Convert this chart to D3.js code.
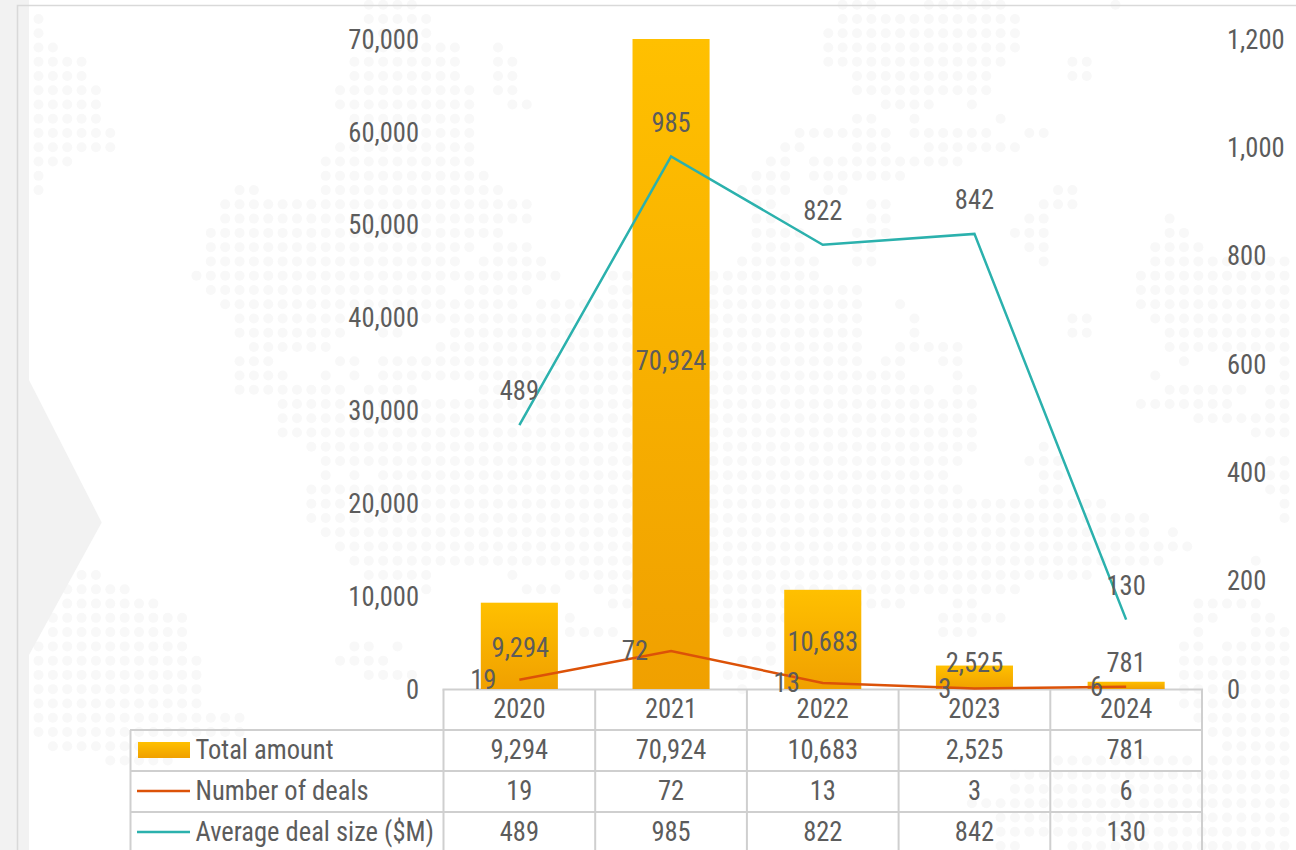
<!DOCTYPE html>
<html><head><meta charset="utf-8">
<style>
html,body{margin:0;padding:0;background:#fff;overflow:hidden}
svg{display:block}
text{font-family:"Roboto Condensed",Roboto,sans-serif;fill:#5c5c5c;font-size:28px}
</style>
<script src="https://cdn.jsdelivr.net/npm/d3@7/dist/d3.min.js"></script>
</head><body>
<svg id="c" width="1296" height="850"></svg>
<script>
// ---- chart data ----
const years = ["2020","2021","2022","2023","2024"];
const totalAmount = [9294,70924,10683,2525,781];
const numberOfDeals = [19,72,13,3,6];
const avgDealSize = [489,985,822,842,130];
const leftTicks = [0,10000,20000,30000,40000,50000,60000,70000];
const rightTicks = [0,200,400,600,800,1000,1200];
const rowNames = ["Total amount","Number of deals","Average deal size ($M)"];
// vertical nudge of the bar's value label from the bar's middle
const barLabelNudge = [2,-3,2,-15,-23];

// ---- decorative dotted map: [row, "col runs"] on a regular grid ----
const mapRows = [
[-1,"23-26,56-58,62-67,75"],[0,"0,23-27,56-68"],[1,"0,23-27,55-68"],[2,"0-1,23-29,32,55-68"],
[3,"0-3,22-29,32-33,55-67,72-73"],[4,"0-3,22-29,32-33,57-66,72-73"],[5,"0-4,21-30,32-33,57-66"],
[6,"0-4,21-30,33-34,59-62,65"],[7,"0-4,22-30,57-58,61,67"],[8,"0-5,23-30,53-59,61-66,69-70"],
[9,"0-5,21-30,52-53,57-59,62-68"],[10,"0-2,20-30,51-52,54-64"],[11,"0,20-31,50-52,54-60"],
[12,"0,14-15,20-32,49-52,55-56,71-72"],[13,"13-34,50-51,58-59,70-72"],[14,"13-34,50-52,58-59,69-70"],
[15,"12-32,50-53,57-59,68-70"],[16,"12-30,32-34,50-53,57-58,69-70"],[17,"12-29,31-35,49-54,57-58,70"],
[18,"11-36,40-54"],[19,"12-28,30-34,40-57"],[20,"13-33,35-57,60"],[21,"14-57,61,72-73"],
[22,"14-21,24-25,29-57,61,72-73"],[23,"15-20,28-57,60-64"],[24,"14-16,21-22,24-57,59-60,63-64"],
[25,"14-17,20,22,24-60,64"],[26,"14-21,23-26,31-62,64-65"],[27,"17-65"],[28,"17-65"],[29,"17-65"],
[30,"19-65,70"],[31,"20-64,69-71"],[32,"20,22,24-63,70-71"],[33,"19-64,70-71"],[34,"19-74"],
[35,"19-77"],[36,"20-77,79"],[37,"21-80"],[38,"22-78"],[39,"3-4,23-27,33,37-73"],
[40,"2-6,27,34-36,39-68"],[41,"2-8,40-60,64-65"],[42,"1-10,37,47-56,63-67"],[43,"1-10,37-40,48-51,63-65"],
[44,"0-10,22-23,25,51"],[45,"0-11,21-24,49-51"],[46,"0-11,23-26,48-50"],[47,"0-11,49"],[48,"0-11"],
[49,"0-14"],[50,"0-14"],[51,"1-8"],[52,"5-9,71-80"],[53,"68-81"],[54,"68-81"],[55,"65-81"],
[56,"67-81"],[57,"67-81"],[58,"67-68,72-81"]
];
const eastRows = [
[14,"2"],[15,"2-3"],[16,"1-4"],[17,"1-10"],[18,"0-10"],[19,"0-10"],[20,"0-10"],[21,"1-10"],[22,"2-10"],
[23,"2-10"],[24,"3,10"],[25,"1,10"],[26,"2-7,9-10"],[27,"0-6,9-10"],[28,"4-10"],[29,"8-10"],[31,"9-10"],
[32,"9-10"],[33,"9-10"],[34,"10"],[35,"10"],[38,"8"],[41,"4-8"],[42,"4-5,8-9"],[43,"4,8-10"],[44,"3-4,6-10"],
[45,"3-10"],[46,"3-10"],[47,"3-10"],[48,"3-10"],[49,"4-10"],[50,"5-10"],[51,"6-10"],[52,"5-10"],[53,"5-10"],
[54,"5-10"],[55,"5-10"],[56,"5-10"],[57,"5-10"],[58,"5-10"]
];

// ---- layout ----
const gridColor="#cfcfcf", teal="#2BB1AD", orange="#DC5208";
const plot={left:443.5,right:1202,top:39,bottom:689};
const rowEdges=[689.5,730,771,812,853];
const xTextScale=0.9466;

const svg=d3.select("#c");
const defs=svg.append("defs");
const grad=defs.append("linearGradient").attr("id","barGrad").attr("x1",0).attr("x2",0).attr("y1",0).attr("y2",1);
grad.append("stop").attr("offset","0%").attr("stop-color","#FFC000");
grad.append("stop").attr("offset","100%").attr("stop-color","#F0A000");

// scales
const x=d3.scaleBand().domain(years).range([plot.left,plot.right]).paddingInner(0.492).paddingOuter(0.246);
const yL=d3.scaleLinear().domain([0,70000]).range([plot.bottom,plot.top]).clamp(true);
const yR=d3.scaleLinear().domain([0,1200]).range([plot.bottom,plot.top]);
const colX=d3.scaleLinear().domain([0,87]).range([38.5,1287.8]);
const rowY=d3.scaleLinear().domain([0,58]).range([19,846]);
const fmt=d3.format(",");

// dotted background
function expand(rows,off){
  const out=[];
  rows.forEach(([k,s])=>s.split(",").forEach(r=>{
    const [a,b]=r.split("-").map(Number);
    for(let i=a;i<=(b===undefined?a:b);i++) out.push({k,i:i+off.base,dx:off.dx});
  }));
  return out;
}
const dots=expand(mapRows,{base:0,dx:0}).concat(expand(eastRows,{base:77,dx:-3.3}));
svg.append("g").selectAll("circle").data(dots).join("circle")
  .attr("cx",d=>colX(d.i)+d.dx).attr("cy",d=>rowY(d.k)).attr("r",5).attr("fill","#f8f8f8");

// frame and chevron
svg.append("rect").attr("x",0).attr("y",0).attr("width",29).attr("height",850).attr("fill","#f2f2f2");
svg.append("path").attr("d","M29,380L101.7,522.5L29,655Z").attr("fill","#f2f2f2");
svg.append("path").attr("d","M17.5,850V5.5H1296").attr("fill","none").attr("stroke","#d9d9d9").attr("stroke-width",1.6);

// data table grid
const grid=svg.append("g").attr("stroke",gridColor).attr("stroke-width",2);
const colEdges=years.map((y,i)=>plot.left+i*x.step());
colEdges.push(plot.right);
grid.append("line").attr("x1",plot.left-1).attr("x2",plot.right+1).attr("y1",rowEdges[0]).attr("y2",rowEdges[0]);
rowEdges.slice(1,4).forEach(y=>grid.append("line").attr("x1",130).attr("x2",plot.right+1).attr("y1",y).attr("y2",y));
colEdges.forEach(v=>grid.append("line").attr("x1",v).attr("x2",v).attr("y1",rowEdges[0]).attr("y2",850));
grid.append("line").attr("x1",130.5).attr("x2",130.5).attr("y1",rowEdges[1]).attr("y2",850);

// bars
svg.append("g").selectAll("rect").data(totalAmount).join("rect")
  .attr("x",(d,i)=>x(years[i])).attr("width",x.bandwidth())
  .attr("y",d=>yL(d)).attr("height",d=>plot.bottom-yL(d)).attr("fill","url(#barGrad)");

// lines
const cx=i=>x(years[i])+x.bandwidth()/2;
const line=d3.line().x((d,i)=>cx(i)).y(d=>yR(d));
const lines=svg.append("g").attr("transform","translate(0,1)");
lines.append("path").datum(numberOfDeals).attr("d",line).attr("fill","none").attr("stroke",orange).attr("stroke-width",2.5);
lines.append("path").datum(avgDealSize).attr("d",line).attr("fill","none").attr("stroke",teal).attr("stroke-width",2.5);

// axes
const axL=svg.append("g").attr("transform",`translate(419,0)`).call(d3.axisLeft(yL).tickValues(leftTicks).tickFormat(fmt).tickSize(0).tickPadding(0));
const axR=svg.append("g").attr("transform",`translate(1227,0)`).call(d3.axisRight(yR).tickValues(rightTicks).tickFormat(fmt).tickSize(0).tickPadding(0));
[axL,axR].forEach(a=>{a.select(".domain").remove();a.attr("font-size",null).attr("font-family",null);
  a.selectAll("text").attr("dy","0.33em");});

// value labels
const lab=svg.append("g");
totalAmount.forEach((v,i)=>lab.append("text").attr("x",cx(i)+(i==0?1:0)).attr("y",(yL(v)+plot.bottom)/2+barLabelNudge[i]).attr("dy","0.33em").attr("text-anchor","middle").text(fmt(v)));
numberOfDeals.forEach((v,i)=>lab.append("text").attr("x",cx(i)-23).attr("y",yR(v)+1).attr("dy","0.33em").attr("text-anchor","end").text(fmt(v)));
avgDealSize.forEach((v,i)=>lab.append("text").attr("x",cx(i)).attr("y",yR(v)-33).attr("dy","0.33em").attr("text-anchor","middle").text(fmt(v)));

// table text
const tt=svg.append("g");
years.forEach((y,i)=>tt.append("text").attr("x",cx(i)).attr("y",709).attr("dy","0.33em").attr("text-anchor","middle").text(y));
[totalAmount,numberOfDeals,avgDealSize].forEach((s,r)=>{
  const yy=(rowEdges[r+1]+rowEdges[r+2])/2-0.5;
  tt.append("text").attr("x",195.5).attr("y",yy).attr("dy","0.33em").text(rowNames[r]);
  s.forEach((v,i)=>tt.append("text").attr("x",cx(i)).attr("y",yy).attr("dy","0.33em").attr("text-anchor","middle").text(fmt(v)));
});

// legend keys
svg.append("rect").attr("x",138).attr("y",742).attr("width",52).attr("height",16).attr("fill","url(#barGrad)");
svg.append("line").attr("x1",137).attr("x2",190).attr("y1",791).attr("y2",791).attr("stroke",orange).attr("stroke-width",2.5);
svg.append("line").attr("x1",137).attr("x2",190).attr("y1",832).attr("y2",832).attr("stroke",teal).attr("stroke-width",2.5);

// narrow the installed face to the reference's condensed width
svg.selectAll("text").each(function(){
  const n=this.getComputedTextLength();
  this.setAttribute("textLength",(n*xTextScale).toFixed(2));
  this.setAttribute("lengthAdjust","spacingAndGlyphs");
});
</script>
</body></html>
